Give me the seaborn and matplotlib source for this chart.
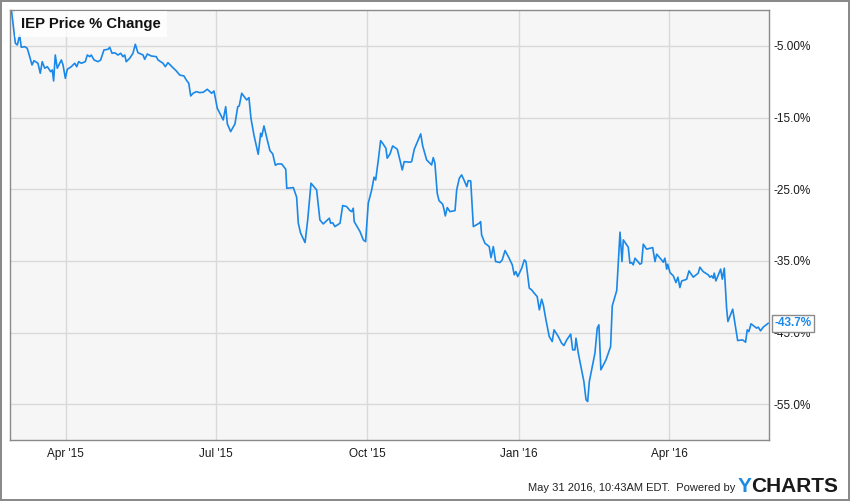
import pandas as pd
import matplotlib.pyplot as plt
import matplotlib.dates as mdates
import seaborn as sns

# days since 2015-02-26 and IEP price % change
days = [1.2, 3.6, 4.8, 6.2, 7.2, 9.3, 10.8, 12.3, 13.7, 14.9, 17.3, 18.7, 19.9, 21.4, 23.0,
        25.0, 26.0, 26.8, 27.8, 29.0, 30.5, 31.5, 32.5, 33.9, 35.1, 37.5, 39.6, 40.8, 42.0,
        43.6, 46.0, 47.2, 48.7, 49.6, 51.3, 53.7, 55.3, 57.3, 59.8, 60.8, 62.2, 63.8, 65.8,
        67.5, 68.8, 69.9, 70.8, 72.9, 74.9, 76.3, 77.9, 81.0, 82.0, 83.6, 86.0, 89.0, 90.1,
        93.1, 94.5, 96.1, 98.5, 101.2, 103.2, 105.8, 107.2, 108.7, 109.9, 111.3, 113.3,
        115.3, 117.5, 119.9, 122.6, 124.0, 126.0, 129.6, 131.1, 132.1, 134.1, 136.7, 138.4,
        139.3, 140.8, 143.8, 145.2, 146.4, 148.2, 150.8, 152.3, 152.9, 154.3, 156.3, 157.9,
        159.6, 161.2, 162.6, 165.0, 167.5, 168.1, 172.1, 174.1, 175.1, 176.5, 179.2, 180.8,
        182.8, 186.2, 188.2, 190.2, 193.9, 194.7, 195.9, 197.3, 200.4, 202.0, 204.4, 206.4,
        207.5, 208.4, 209.0, 212.5, 214.5, 215.9, 217.5, 219.6, 221.0, 222.0, 223.6, 225.0,
        226.2, 228.2, 229.0, 230.7, 232.3, 235.1, 236.7, 238.1, 239.3, 242.8, 243.8, 245.4,
        249.3, 250.5, 252.9, 255.9, 256.9, 257.9, 259.3, 260.4, 262.6, 263.4, 264.2, 265.4,
        267.0, 270.1, 271.1, 272.7, 274.1, 275.7, 277.2, 278.1, 279.6, 281.2, 284.8, 285.6,
        286.2, 288.2, 290.8, 291.9, 293.3, 294.7, 297.3, 298.7, 300.4, 302.4, 304.8, 306.0,
        307.0, 308.1, 310.5, 312.1, 313.1, 315.1, 316.5, 318.1, 319.9, 321.2, 322.6, 323.6,
        325.2, 327.2, 329.0, 330.1, 332.7, 334.7, 336.1, 337.8, 340.2, 341.4, 342.8, 343.4,
        344.8, 348.2, 349.5, 350.5, 351.5, 354.9, 356.3, 357.3, 358.5, 361.6, 364.4, 365.4,
        368.1, 370.1, 371.3, 372.1, 375.1, 376.1, 377.2, 378.1, 379.2, 382.2, 383.2, 384.2,
        386.2, 389.9, 391.3, 392.3, 395.3, 396.3, 397.3, 398.4, 399.0, 400.4, 402.4, 404.0,
        405.2, 406.4, 407.5, 409.5, 410.5, 411.9, 414.5, 417.5, 418.5, 420.5, 423.6, 424.6,
        425.6, 426.6, 427.2, 428.2, 431.1, 432.1, 433.3, 434.7, 435.5, 438.4, 441.4, 444.4,
        446.2, 447.2, 448.2, 449.5, 452.9, 453.9, 455.3, 456.9, 460.0]
pct = [0.0, -4.64, -4.88, -3.49, -5.20, -5.12, -5.34, -6.51, -7.67, -7.07, -7.43, -8.83, -7.21,
       -8.13, -7.91, -8.61, -8.37, -9.90, -6.28, -8.13, -7.43, -6.97, -7.67, -9.53, -8.27,
       -7.91, -7.43, -7.91, -7.21, -7.43, -7.21, -6.28, -6.51, -6.28, -6.97, -7.21, -6.97,
       -5.58, -5.48, -5.20, -6.04, -5.96, -6.28, -6.04, -6.51, -6.28, -7.21, -6.74, -6.04,
       -4.78, -5.96, -6.28, -6.88, -6.14, -6.42, -6.51, -6.97, -7.43, -7.91, -7.35, -7.91,
       -8.51, -9.07, -9.21, -9.76, -10.22, -11.99, -11.62, -11.39, -11.53, -11.48, -11.06,
       -11.62, -11.30, -13.71, -15.34, -13.49, -15.90, -16.97, -15.90, -13.49, -13.39, -11.62,
       -12.55, -12.23, -15.10, -17.43, -20.13, -17.20, -17.67, -16.18, -18.13, -19.62, -20.08,
       -21.66, -21.48, -21.48, -22.22, -24.87, -24.78, -26.12, -29.75, -31.14, -32.45, -29.29,
       -24.17, -25.10, -29.29, -29.85, -29.05, -29.75, -29.67, -30.22, -29.75, -27.29, -27.43,
       -27.99, -28.13, -27.66, -29.53, -30.92, -32.08, -32.32, -26.96, -25.10, -23.33, -23.71,
       -20.92, -18.23, -18.59, -19.29, -20.68, -20.08, -18.97, -19.43, -20.92, -22.32, -21.16,
       -21.24, -21.16, -19.43, -17.29, -18.97, -20.92, -21.62, -20.60, -21.38, -25.56, -26.60,
       -27.10, -27.80, -28.73, -27.57, -28.13, -27.99, -25.10, -23.47, -23.01, -23.81, -24.64,
       -23.81, -23.85, -30.22, -29.75, -29.53, -31.38, -32.54, -33.01, -34.55, -33.01, -35.10,
       -35.24, -34.87, -33.57, -34.41, -35.56, -36.96, -36.50, -37.20, -36.03, -34.87, -35.10,
       -38.81, -39.05, -39.51, -39.99, -41.84, -40.35, -41.14, -43.24, -45.56, -46.26, -44.63,
       -45.56, -46.49, -46.82, -46.03, -45.23, -47.42, -47.42, -45.79, -47.88, -51.84, -54.39,
       -54.63, -51.84, -47.88, -44.39, -43.93, -50.21, -48.81, -46.96, -41.28, -39.15, -31.00,
       -35.10, -32.08, -33.10, -35.33, -35.24, -35.56, -34.63, -35.47, -35.33, -32.68, -33.37,
       -33.15, -35.10, -34.07, -34.87, -35.19, -34.63, -36.16, -35.47, -36.64, -37.10, -38.03,
       -37.28, -38.73, -37.80, -37.66, -37.56, -36.40, -37.28, -36.72, -35.89, -36.50, -36.96,
       -37.28, -37.10, -37.42, -36.72, -37.80, -36.16, -37.56, -36.03, -41.60, -43.47, -41.74,
       -46.12, -46.03, -46.35, -44.63, -44.87, -43.79, -44.39, -44.25, -44.77, -44.25, -43.70]

y_ticks = [-5, -15, -25, -35, -45, -55]
y_labels = ["-5.00%", "-15.0%", "-25.0%", "-35.0%", "-45.0%", "-55.0%"]
x_ticks = ["2015-04-01", "2015-07-01", "2015-10-01", "2016-01-01", "2016-04-01"]

base = pd.Timestamp("2015-02-26")
df = pd.DataFrame({"date": base + pd.to_timedelta(days, unit="D"), "pct": pct})

sns.set_style("white")
plt.rcParams["font.family"] = ["Liberation Sans", "DejaVu Sans"]

blue = "#1a88e8"
fig = plt.figure(figsize=(8.5, 5.01), dpi=100, linewidth=1.5, edgecolor="#8a8a8a")
ax = fig.add_axes([10 / 850, 61 / 501, 759 / 850, 430 / 501])
ax.set_facecolor("#f6f6f6")

sns.lineplot(data=df, x="date", y="pct", ax=ax, color=blue, linewidth=1.2)

ax.set_xlim(base + pd.Timedelta(days=0.36), base + pd.Timedelta(days=460.4))
ax.set_ylim(-60, 0)
ax.set_xticks(pd.to_datetime(x_ticks))
ax.xaxis.set_major_formatter(mdates.DateFormatter("%b '%y"))
ax.set_yticks(y_ticks)
ax.set_yticklabels(y_labels)
ax.yaxis.tick_right()
ax.tick_params(axis="y", length=0, pad=3.5, labelsize=8.5, colors="#1a1a1a")
ax.tick_params(axis="x", length=0, pad=6, labelsize=8.5, colors="#1a1a1a")
ax.grid(True, color="#d9d9d9", linewidth=1)
ax.set_axisbelow(True)
ax.set_xlabel("")
ax.set_ylabel("")
for s in ax.spines.values():
    s.set_color("#8a8a8a")
    s.set_linewidth(1)

ax.text(0.0145, 0.967, "IEP Price % Change", transform=ax.transAxes, ha="left", va="center",
        fontsize=10.7, fontweight="bold", color="#111111",
        bbox=dict(boxstyle="square,pad=0.4", facecolor="white", edgecolor="none", alpha=0.8))

# last value tag
ax.annotate("-43.7%", xy=(1.0, pct[-1]), xycoords=("axes fraction", "data"),
            xytext=(4, 0), textcoords="offset points", ha="left", va="center",
            fontsize=8.5, fontweight="bold", color=blue, annotation_clip=False,
            bbox=dict(boxstyle="square,pad=0.2", facecolor="white", edgecolor="#8a8a8a"))

fig.text(735 / 850, 1 - 488 / 501, "May 31 2016, 10:43AM EDT.  Powered by", ha="right",
         va="center", fontsize=8, color="#222222")
fig.text(738 / 850, 1 - 487 / 501, "Y", ha="left", va="center", fontsize=15,
         fontweight="heavy", color="#1c8ce3")
fig.text(838 / 850, 1 - 487 / 501, "CHARTS", ha="right", va="center", fontsize=15,
         fontweight="heavy", color="#1a1a1a")

plt.savefig("out.png", dpi=100)
